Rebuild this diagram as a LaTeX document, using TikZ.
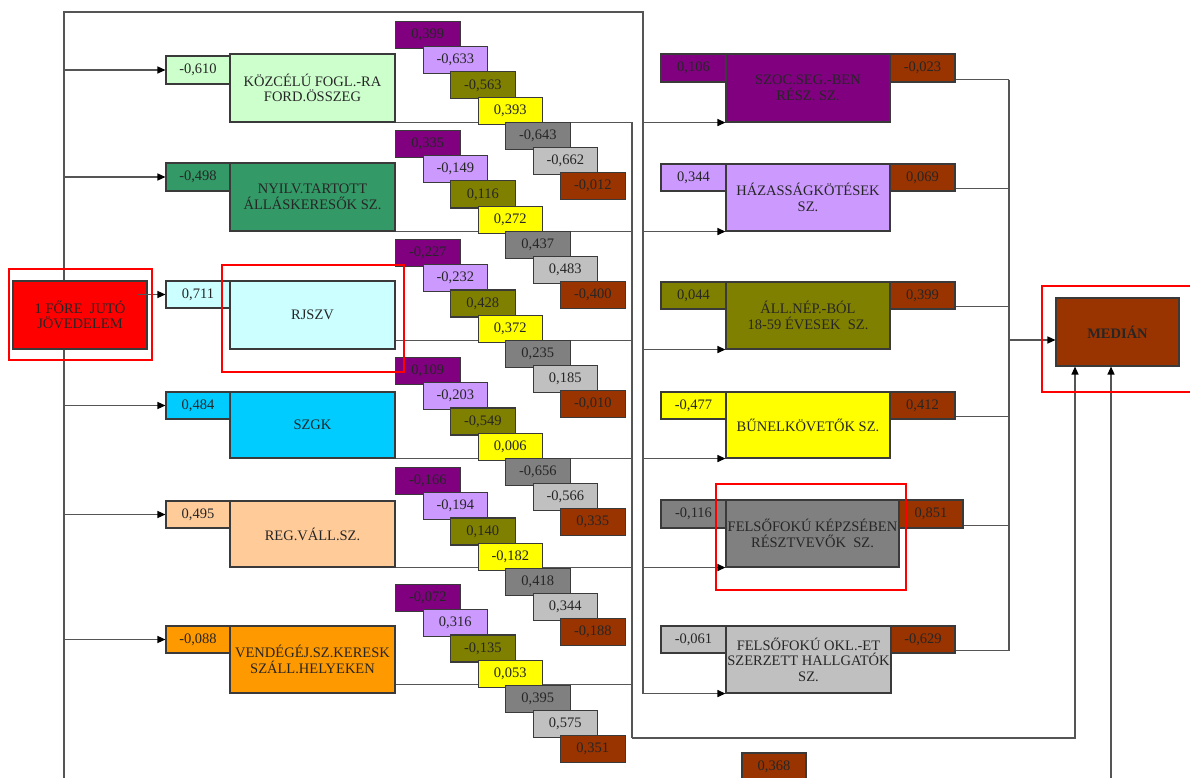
\documentclass[tikz,border=0pt]{standalone}
\usepackage{fontspec}
\setmainfont{Liberation Serif}
\usetikzlibrary{arrows.meta}
\definecolor{cpur}{HTML}{800080}
\definecolor{clav}{HTML}{CC99FF}
\definecolor{coli}{HTML}{808000}
\definecolor{cyel}{HTML}{FFFF00}
\definecolor{cgry}{HTML}{808080}
\definecolor{clgr}{HTML}{C0C0C0}
\definecolor{cbrn}{HTML}{993300}
\definecolor{cgr1}{HTML}{CCFFCC}
\definecolor{cgr2}{HTML}{339966}
\definecolor{ccy1}{HTML}{CCFFFF}
\definecolor{ccy2}{HTML}{00CCFF}
\definecolor{cor1}{HTML}{FFCC99}
\definecolor{cor2}{HTML}{FF9900}
\definecolor{bordc}{HTML}{3A3A3A}
\definecolor{linec}{HTML}{555555}
\definecolor{txtc}{HTML}{262626}
\pgfdeclarelayer{bg}\pgfsetlayers{bg,main}
\tikzset{
  box/.style={draw=bordc, line width=1.1pt, inner sep=1pt, align=center, text=txtc,
    font=\fontsize{14.5}{15.5}\selectfont},
  conn/.style={draw=linec, line width=1.3pt},
  arr/.style={conn, -{Triangle[length=8pt,width=7pt,color=black]}},
  hl/.style={draw=red, line width=2.5pt},
}
\newcommand\bx[7]{\node[box, fill=#6, minimum width={#4-#2}, minimum height={#5-#3}] (#1) at ({(#2+#4)/2},{(#3+#5)/2}) {#7};}
\newcommand\sbx[5]{\node[box, fill=#4, minimum width=64.5, minimum height=27, anchor=north west] (#1) at ({395+27.5*#2},{#3+25.2*#2}) {#5};}
\newcommand\grp[9]{\sbx{#1a}{0}{#2}{cpur}{#3}\sbx{#1b}{1}{#2}{clav}{#4}\sbx{#1c}{2}{#2}{coli}{#5}\sbx{#1d}{3}{#2}{cyel}{#6}\sbx{#1e}{4}{#2}{cgry}{#7}\sbx{#1f}{5}{#2}{clgr}{#8}\sbx{#1g}{6}{#2}{cbrn}{#9}}
\begin{document}
\begin{tikzpicture}[x=1pt,y=-1pt]
\useasboundingbox (0,0) rectangle (1190,778);
% left column
\bx{inc}{13}{281}{147}{349}{red}{1 FŐRE\ \ JUTÓ\\JÖVEDELEM}
\bx{m1}{230}{54}{395}{122}{cgr1}{KÖZCÉLÚ FOGL.-RA\\FORD.ÖSSZEG}
\bx{v1}{166}{56}{230}{84}{cgr1}{-0,610}
\bx{m2}{230}{163}{395}{231}{cgr2}{NYILV.TARTOTT\\ÁLLÁSKERESŐK SZ.}
\bx{v2}{166}{163}{230}{191}{cgr2}{-0,498}
\bx{m3}{230}{281}{395}{349}{ccy1}{RJSZV}
\bx{v3}{166}{281}{230}{308}{ccy1}{0,711}
\bx{m4}{230}{392}{395}{458}{ccy2}{SZGK}
\bx{v4}{166}{392}{230}{419}{ccy2}{0,484}
\bx{m5}{230}{501}{395}{567}{cor1}{REG.VÁLL.SZ.}
\bx{v5}{166}{501}{230}{528}{cor1}{0,495}
\bx{m6}{230}{626}{395}{693}{cor2}{VENDÉGÉJ.SZ.KERESK\\SZÁLL.HELYEKEN}
\bx{v6}{166}{626}{230}{653}{cor2}{-0,088}
% staircase
\grp{s1}{21}{0,399}{-0,633}{-0,563}{0,393}{-0,643}{-0,662}{-0,012}
\grp{s2}{130}{0,335}{-0,149}{0,116}{0,272}{0,437}{0,483}{-0,400}
\grp{s3}{239}{-0,227}{-0,232}{0,428}{0,372}{0,235}{0,185}{-0,010}
\grp{s4}{357}{0,109}{-0,203}{-0,549}{0,006}{-0,656}{-0,566}{0,335}
\grp{s5}{467}{-0,166}{-0,194}{0,140}{-0,182}{0,418}{0,344}{-0,188}
\grp{s6}{584}{-0,072}{0,316}{-0,135}{0,053}{0,395}{0,575}{0,351}
% right column
\bx{r1}{726}{54}{890}{122}{cpur}{SZOC.SEG.-BEN\\RÉSZ. SZ.}
\bx{rv1}{661}{54}{726}{82}{cpur}{0,106}
\bx{rb1}{890}{54}{955}{82}{cbrn}{-0,023}
\bx{r2}{726}{164}{890}{231}{clav}{HÁZASSÁGKÖTÉSEK\\SZ.}
\bx{rv2}{661}{164}{726}{191}{clav}{0,344}
\bx{rb2}{890}{164}{955}{191}{cbrn}{0,069}
\bx{r3}{726}{282}{890}{349}{coli}{ÁLL.NÉP.-BÓL\\18-59 ÉVESEK\ \ SZ.}
\bx{rv3}{661}{282}{726}{309}{coli}{0,044}
\bx{rb3}{890}{282}{955}{309}{cbrn}{0,399}
\bx{r4}{726}{392}{890}{458}{cyel}{BŰNELKÖVETŐK SZ.}
\bx{rv4}{661}{392}{726}{419}{cyel}{-0,477}
\bx{rb4}{890}{392}{955}{419}{cbrn}{0,412}
\bx{r5}{726}{500}{899}{567}{cgry}{FELSŐFOKÚ KÉPZSÉBEN\\RÉSZTVEVŐK\ \ SZ.}
\bx{rv5}{661}{500}{726}{528}{cgry}{-0,116}
\bx{rb5}{899}{500}{963}{528}{cbrn}{0,851}
\bx{r6}{726}{626}{891}{693}{clgr}{FELSŐFOKÚ OKL.-ET\\SZERZETT HALLGATÓK\\SZ.}
\bx{rv6}{661}{626}{726}{653}{clgr}{-0,061}
\bx{rb6}{891}{626}{955}{653}{cbrn}{-0,629}
\bx{med}{1056}{298}{1179}{366}{cbrn}{\textbf{MEDIÁN}}
\bx{dir}{742}{753}{806}{780}{cbrn}{0,368}
% arrow from income box
\draw[arr] ([xshift=-10pt]v3.west -| inc.east) -- (v3.west);
% highlight frames
\draw[hl] (9,269) rectangle (152,360);
\draw[hl] (222,265) rectangle (404,372);
\draw[hl] (716,484) rectangle (906,590);
\draw[hl] (1194,286) -- (1042,286) -- (1042,392) -- (1194,392);
\begin{pgfonlayer}{bg}
\fill[white] (0,0) rectangle (1190,778);
\coordinate (ftl) at (64,12);
\coordinate (ftr) at (643,12);
\coordinate (fbl) at (64,778);
\draw[conn] (fbl) -- (ftl) -- (ftr) -- (ftr |- r6.south west);
\foreach \n in {1,2,4,5,6} \draw[arr] (ftl |- v\n.west) -- (v\n.west);
\coordinate (cA) at (632,122);
\coordinate (cB) at (632,738);
\coordinate (cC) at (1075,738);
\foreach \n in {1,2,4,5} \draw[conn] (m\n.south east) -- (m\n.south east -| cA);
\foreach \n in {3,6} \draw[conn] ([yshift=9pt]m\n.south east) -- ([yshift=9pt]m\n.south east -| cA);
\draw[conn] (cA) -- (cB);
\draw[arr] (cB) -- (cC) -- (cC |- med.south);
\foreach \n in {1,...,6} \draw[arr] (ftr |- r\n.south west) -- (r\n.south west);
\coordinate (kT) at (1009,79);
\foreach \n in {1,...,6} \draw[conn] ([yshift=3pt]rb\n.south east) -- ([yshift=3pt]rb\n.south east -| kT);
\draw[conn] ([yshift=3pt]rb1.south east -| kT) -- ([yshift=3pt]rb6.south east -| kT);
\draw[arr] ([yshift=-8pt]med.west -| kT) -- ([yshift=-8pt]med.west);
\coordinate (bR) at (1111,778);
\draw[arr] (bR) -- (bR |- med.south);
\end{pgfonlayer}
\end{tikzpicture}
\end{document}
